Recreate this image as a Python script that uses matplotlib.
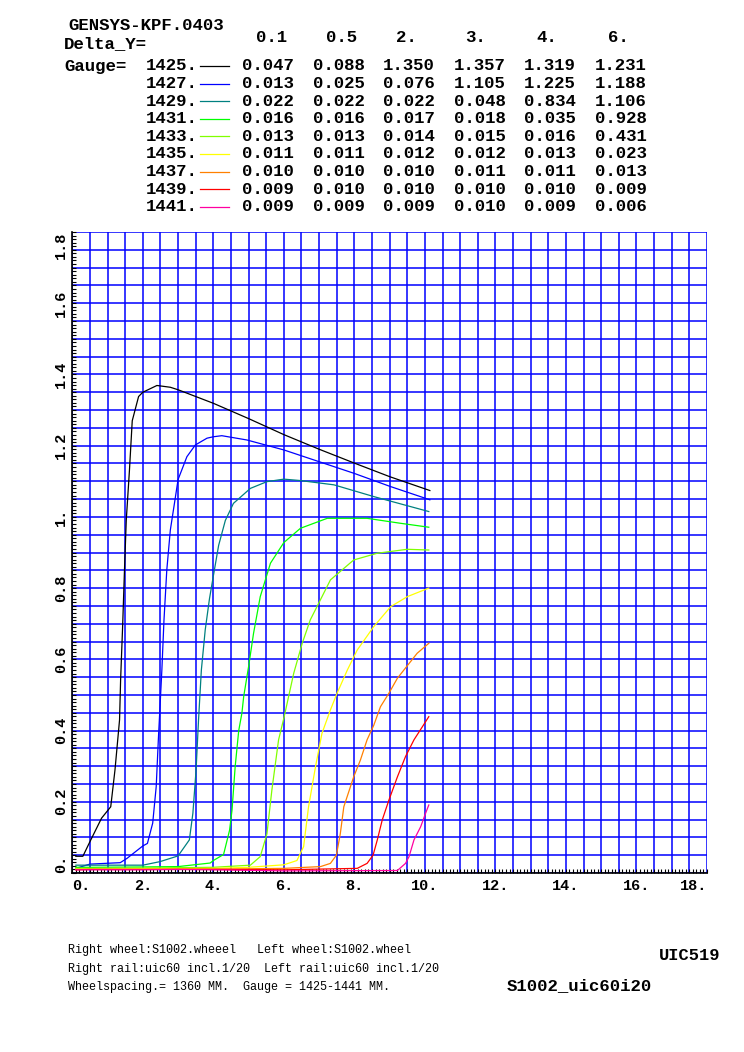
import numpy as np
import matplotlib
matplotlib.use("Agg")
import matplotlib.pyplot as plt

# header table
delta_y = ["0.1", "0.5", "2.", "3.", "4.", "6."]
gauges = ["1425.", "1427.", "1429.", "1431.", "1433.", "1435.", "1437.", "1439.", "1441."]
table_vals = [
    ["0.047", "0.088", "1.350", "1.357", "1.319", "1.231"],
    ["0.013", "0.025", "0.076", "1.105", "1.225", "1.188"],
    ["0.022", "0.022", "0.022", "0.048", "0.834", "1.106"],
    ["0.016", "0.016", "0.017", "0.018", "0.035", "0.928"],
    ["0.013", "0.013", "0.014", "0.015", "0.016", "0.431"],
    ["0.011", "0.011", "0.012", "0.012", "0.013", "0.023"],
    ["0.010", "0.010", "0.010", "0.011", "0.011", "0.013"],
    ["0.009", "0.010", "0.010", "0.010", "0.010", "0.009"],
    ["0.009", "0.009", "0.009", "0.010", "0.009", "0.006"],
]
colors = ["#000000", "#0000ff", "#008080", "#00ff00", "#80ff00",
          "#ffff00", "#ff8000", "#ff0000", "#ff00a0"]

# curves
x1425 = [0.1, 0.3, 0.5, 0.83, 1.09, 1.21, 1.34, 1.37, 1.43, 1.48, 1.53, 1.62, 1.70, 1.88, 2.0,
         2.4, 2.78, 3.0, 4.0, 5.0, 6.0, 7.0, 8.0, 9.0, 10.14]
y1425 = [0.047, 0.047, 0.088, 0.154, 0.186, 0.289, 0.43, 0.542, 0.70, 0.851, 0.99, 1.13, 1.27, 1.338,
         1.350, 1.369, 1.364, 1.357, 1.319, 1.276, 1.231, 1.190, 1.151, 1.113, 1.074]
x1427 = [0.1, 0.5, 1.36, 1.55, 2.0, 2.13, 2.28, 2.38, 2.44, 2.54, 2.6, 2.68, 2.78, 2.9, 3.0,
         3.25, 3.49, 3.82, 4.0, 4.24, 4.95, 6.0, 7.0, 8.0, 9.0, 10.14]
y1427 = [0.013, 0.025, 0.029, 0.041, 0.076, 0.083, 0.14, 0.243, 0.374, 0.57, 0.71, 0.851, 0.963,
         1.04, 1.105, 1.169, 1.202, 1.221, 1.225, 1.228, 1.216, 1.188, 1.155, 1.122, 1.086, 1.048]
x1429 = [0.1, 0.5, 2.0, 2.49, 3.0, 3.32, 3.42, 3.51, 3.58, 3.66, 3.77, 3.89, 4.0, 4.15, 4.34,
         4.57, 5.05, 5.52, 6.0, 6.47, 7.42, 8.55, 10.11]
y1429 = [0.022, 0.022, 0.022, 0.032, 0.048, 0.093, 0.168, 0.289, 0.43, 0.57, 0.683, 0.77, 0.834,
         0.92, 0.99, 1.038, 1.08, 1.099, 1.106, 1.102, 1.09, 1.057, 1.015]
x1431 = [0.1, 0.5, 2.0, 3.0, 3.91, 4.0, 4.29, 4.46, 4.53, 4.62, 4.72, 4.81, 4.86, 5.0, 5.14,
         5.33, 5.62, 6.0, 6.47, 7.23, 8.36, 9.31, 10.11]
y1431 = [0.016, 0.016, 0.017, 0.018, 0.028, 0.035, 0.052, 0.12, 0.177, 0.30, 0.40, 0.449, 0.495,
         0.58, 0.673, 0.776, 0.87, 0.928, 0.968, 0.996, 0.996, 0.982, 0.971]
x1433 = [0.1, 0.5, 2.0, 3.0, 4.0, 5.05, 5.33, 5.52, 5.66, 5.85, 6.0, 6.28, 6.52, 6.75, 6.99,
         7.32, 7.98, 8.65, 9.5, 10.11]
y1433 = [0.013, 0.013, 0.014, 0.015, 0.016, 0.022, 0.046, 0.11, 0.233, 0.374, 0.435, 0.561,
         0.645, 0.711, 0.758, 0.823, 0.879, 0.898, 0.909, 0.907]
x1435 = [0.1, 0.5, 2.0, 3.0, 4.0, 5.0, 6.0, 6.37, 6.56, 6.7, 6.9, 7.08, 7.32, 7.51, 7.8, 8.08,
         8.55, 9.03, 9.5, 10.11]
y1435 = [0.011, 0.011, 0.012, 0.012, 0.013, 0.016, 0.023, 0.035, 0.074, 0.186, 0.30, 0.392,
         0.458, 0.505, 0.57, 0.626, 0.692, 0.748, 0.776, 0.80]
x1437 = [0.1, 0.5, 2.0, 3.0, 4.0, 6.0, 7.04, 7.32, 7.49, 7.6, 7.7, 7.98, 8.17, 8.36, 8.55, 8.74,
         8.98, 9.22, 9.5, 9.78, 10.11]
y1437 = [0.010, 0.010, 0.010, 0.011, 0.011, 0.013, 0.018, 0.027, 0.05, 0.11, 0.186, 0.27, 0.317,
         0.374, 0.415, 0.467, 0.505, 0.547, 0.582, 0.617, 0.645]
x1439 = [0.1, 0.5, 2.0, 3.0, 4.0, 6.0, 8.08, 8.36, 8.53, 8.65, 8.79, 8.98, 9.22, 9.45, 9.69,
         9.93, 10.11]
y1439 = [0.009, 0.010, 0.010, 0.010, 0.010, 0.009, 0.013, 0.027, 0.05, 0.093, 0.149, 0.205,
         0.27, 0.327, 0.374, 0.411, 0.439]
x1441 = [0.1, 0.5, 2.0, 3.0, 4.0, 6.0, 9.22, 9.45, 9.55, 9.69, 9.88, 10.02, 10.11]
y1441 = [0.009, 0.009, 0.009, 0.010, 0.009, 0.006, 0.007, 0.027, 0.046, 0.093, 0.13, 0.168, 0.191]

curves = [(x1425, y1425), (x1427, y1427), (x1429, y1429), (x1431, y1431), (x1433, y1433),
          (x1435, y1435), (x1437, y1437), (x1439, y1439), (x1441, y1441)]

xticks = [0, 2, 4, 6, 8, 10, 12, 14, 16, 18]
yticks = [0, 0.2, 0.4, 0.6, 0.8, 1.0, 1.2, 1.4, 1.6, 1.8]

W, H = 744, 1052
MONO = "Liberation Mono"


def fig_xy(px, py):
    return px / W, 1 - py / H


def tick_txt(v):
    s = f"{v:g}"
    return s if "." in s else s + "."


fig = plt.figure(figsize=(W / 100, H / 100), dpi=100)
ax = fig.add_axes([72.3 / W, 1 - 873 / H, (707 - 72.3) / W, (873 - 232) / H])

# blue grid
for gx in np.arange(0, 18.01, 0.5):
    ax.axvline(gx, color="#0000ff", lw=1.1, zorder=1)
for gy in np.arange(0, 1.801, 0.05):
    ax.axhline(gy, color="#0000ff", lw=1.1, zorder=1)

for (xs, ys), c in zip(curves, colors):
    ax.plot(xs, ys, color=c, lw=0.9, zorder=2)

ax.set_xlim(0, 18)
ax.set_ylim(0, 1.8)
for s in ["top", "right"]:
    ax.spines[s].set_visible(False)
for s in ["left", "bottom"]:
    ax.spines[s].set_color("black")
    ax.spines[s].set_linewidth(1.2)
    ax.spines[s].set_zorder(3)

ax.set_xticks(xticks)
ax.set_xticklabels([tick_txt(v) for v in xticks], fontfamily=MONO, fontweight="bold", fontsize=11)
ax.set_xticks(np.arange(0, 18.01, 0.1), minor=True)
ax.set_yticks(yticks)
ax.set_yticklabels([tick_txt(v) for v in yticks], fontfamily=MONO, fontweight="bold", fontsize=11,
                   rotation=90, va="center")
ax.set_yticks(np.arange(0, 1.801, 0.01), minor=True)
ax.tick_params(which="both", direction="in", length=3, width=0.8, color="black")
ax.tick_params(axis="x", which="major", pad=4)
ax.tick_params(axis="y", which="major", pad=3)
xl = ax.get_xticklabels()
xl[0].set_ha("left")
xl[-1].set_ha("right")
yl = ax.get_yticklabels()
yl[0].set_va("bottom")
yl[-1].set_va("top")

# header
hdr = dict(fontfamily=MONO, fontweight="bold", fontsize=12.5, va="center")
fig.text(*fig_xy(68, 25), "GENSYS-KPF.0403", ha="left", **hdr)
fig.text(*fig_xy(64, 44), "Delta_Y=", ha="left", **hdr)
fig.text(*fig_xy(64, 66), "Gauge=", ha="left", **hdr)
col_hdr_x = [272, 342, 406, 476, 547, 618]
col_val_x = [268, 339, 409, 480, 550, 621]
for cx, lab in zip(col_hdr_x, delta_y):
    fig.text(*fig_xy(cx, 37), lab, ha="center", **hdr)
for i, (g, row, c) in enumerate(zip(gauges, table_vals, colors)):
    ry = 66 + 17.6 * i
    fig.text(*fig_xy(198, ry), g, ha="right", **hdr)
    fig.add_artist(plt.Line2D([200 / W, 229 / W], [1 - ry / H] * 2, color=c, lw=0.9))
    for cx, v in zip(col_val_x, row):
        fig.text(*fig_xy(cx, ry), v, ha="center", **hdr)

# footer
small = dict(fontfamily=MONO, fontsize=8.5, va="center", ha="left")
fig.text(*fig_xy(68, 950), "Right wheel:S1002.wheeel   Left wheel:S1002.wheel", **small)
fig.text(*fig_xy(68, 969), "Right rail:uic60 incl.1/20  Left rail:uic60 incl.1/20", **small)
fig.text(*fig_xy(68, 987), "Wheelspacing.= 1360 MM.  Gauge = 1425-1441 MM.", **small)
fig.text(*fig_xy(720, 956), "UIC519", fontfamily=MONO, fontweight="bold", fontsize=12.3,
         ha="right", va="center")
fig.text(*fig_xy(507, 986), "S1002_uic60i20", fontfamily=MONO, fontweight="bold", fontsize=12.5,
         ha="left", va="center")

fig.savefig("out.png", dpi=100)
